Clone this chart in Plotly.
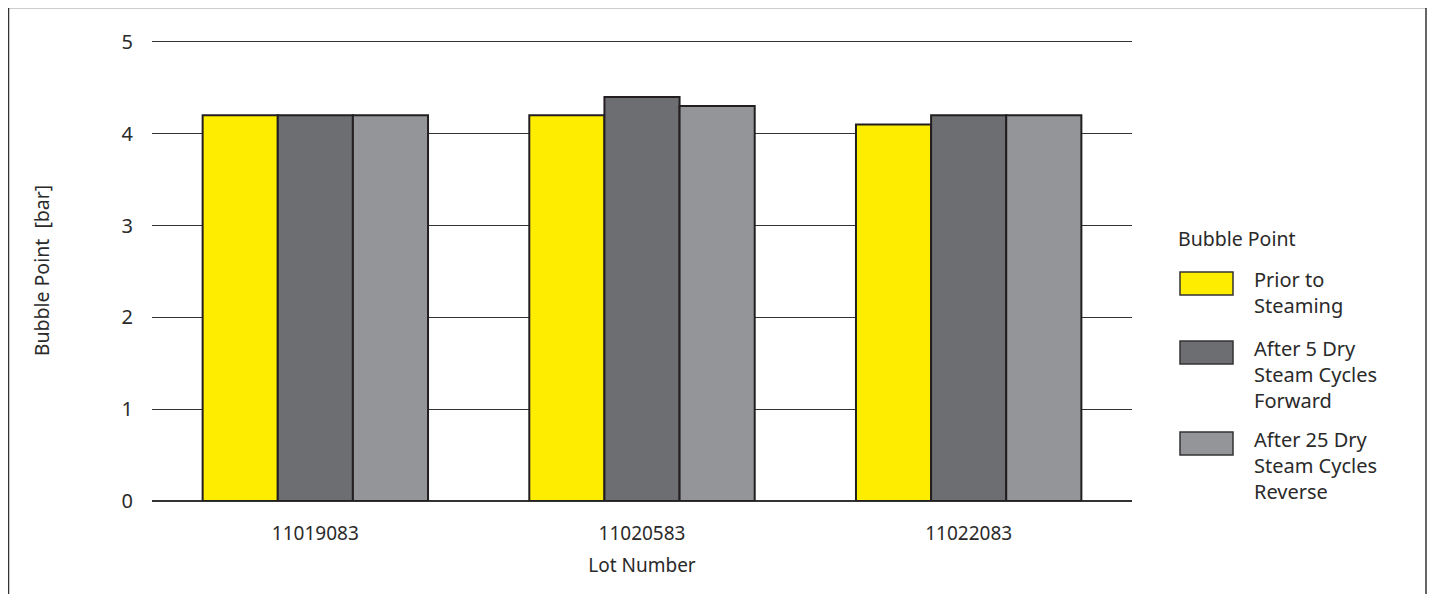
import plotly.graph_objects as go

lots = ["11019083", "11020583", "11022083"]
series_names = ["Prior to<br>Steaming", "After 5 Dry<br>Steam Cycles<br>Forward", "After 25 Dry<br>Steam Cycles<br>Reverse"]
prior = [4.2, 4.2, 4.1]
after5 = [4.2, 4.4, 4.2]
after25 = [4.2, 4.3, 4.2]
colors = ["#FFED00", "#6D6E71", "#939598"]
y_ticks = [0, 1, 2, 3, 4, 5]

# page is offset by 8px body margin; figure coords = page coords - 8
O = 8
W, H = 1427, 586
L, R, T, B = 144, 303, 32, 93
pw, ph = W - L - R, H - T - B

def px(x):  # page x -> paper
    return (x - O - L) / pw

def py(y):  # page y -> paper
    return (H - B - (y - O)) / ph

FONT = "Noto Sans"
TXT = "#2A2A2A"

fig = go.Figure()
for name, vals, col in zip(series_names, [prior, after5, after25], colors):
    fig.add_trace(go.Bar(x=lots, y=vals, name=name.replace("<br>", " "),
                         marker=dict(color=col, line=dict(color="#231F20", width=2)),
                         showlegend=False))

fig.update_layout(
    width=W, height=H,
    margin=dict(l=L, r=R, t=T, b=B, autoexpand=False),
    paper_bgcolor="white", plot_bgcolor="white",
    barmode="group", bargap=0.31, bargroupgap=0,
    font=dict(family=FONT, color=TXT, size=19),
    xaxis=dict(showgrid=False, showline=False, ticks="", ticklabelstandoff=19,
               tickfont=dict(size=19), title=dict(text="Lot Number", font=dict(size=19), standoff=13)),
    yaxis=dict(range=[0, 5.02], tickvals=y_ticks, showgrid=True, gridcolor="#333333", gridwidth=1.3,
               zeroline=True, zerolinecolor="#333333", zerolinewidth=1.5,
               ticks="", ticklabelstandoff=18, tickfont=dict(size=20),
               title=dict(text="Bubble Point \u00a0[bar]", font=dict(size=19.5), standoff=66)),
)

# outer frame
fig.add_shape(type="line", xref="paper", yref="paper", x0=px(8), x1=px(1427), y0=py(7.5), y1=py(7.5),
              line=dict(color="#9A9A9A", width=2))
fig.add_shape(type="line", xref="paper", yref="paper", x0=px(8.5), x1=px(8.5), y0=py(7), y1=py(610),
              line=dict(color="#333333", width=1.5))
fig.add_shape(type="line", xref="paper", yref="paper", x0=px(1426), x1=px(1426), y0=py(7), y1=py(610),
              line=dict(color="#333333", width=1.5))

# custom legend
fig.add_annotation(xref="paper", yref="paper", x=px(1176), y=py(238), text="Bubble Point",
                   showarrow=False, xanchor="left", yanchor="middle", font=dict(size=19.5))
sw_tops = [272, 341, 432]
for name, col, top in zip(series_names, colors, sw_tops):
    fig.add_shape(type="rect", xref="paper", yref="paper", x0=px(1180), x1=px(1233),
                  y0=py(top), y1=py(top + 23), fillcolor=col, line=dict(color="#333333", width=1.5))
    fig.add_annotation(xref="paper", yref="paper", x=px(1252), y=py(top - 8), text=name,
                       showarrow=False, xanchor="left", yanchor="top", align="left",
                       font=dict(size=20))

fig.write_html("out.html")
